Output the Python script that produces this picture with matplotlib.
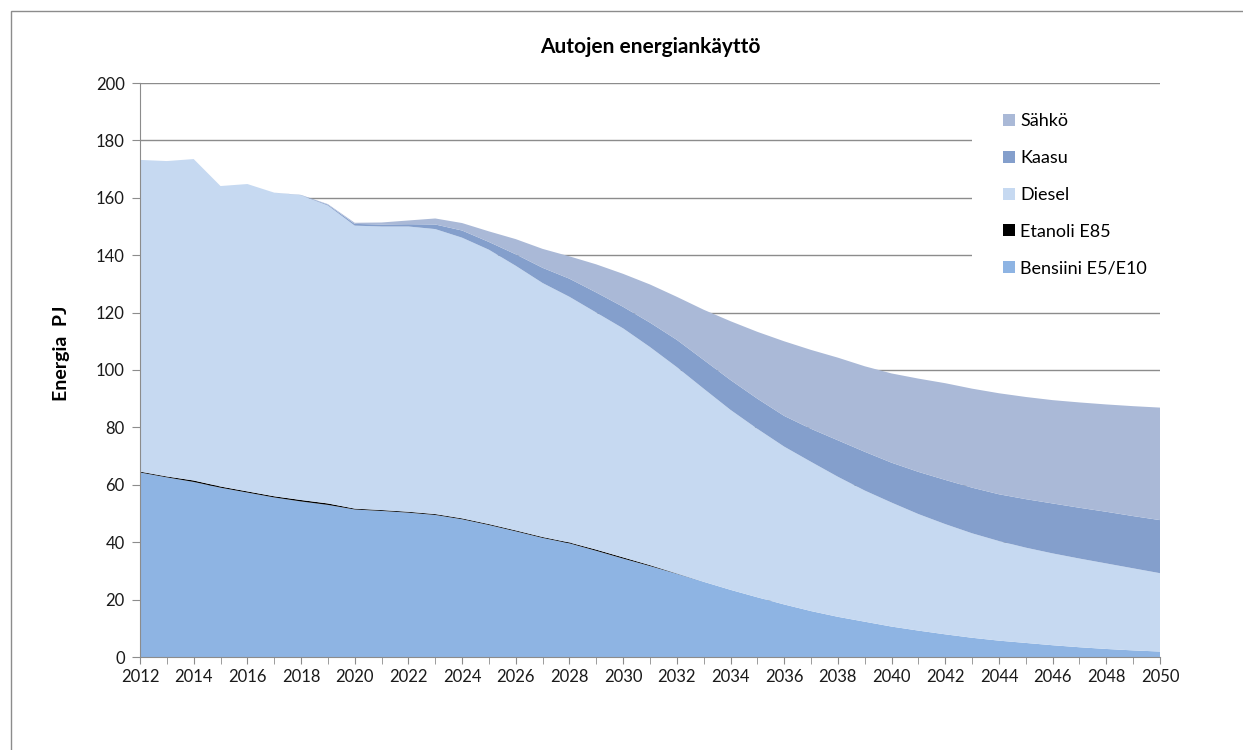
import matplotlib.pyplot as plt
import matplotlib.patches as patches

plt.rcParams['font.family'] = ['Lato', 'DejaVu Sans']

# Data (PJ)
years = list(range(2012, 2051))
bensiini = [64.3, 62.6, 61.0, 59.0, 57.3, 55.6, 54.2, 53.0, 51.4, 50.9,
            50.3, 49.5, 48.0, 46.0, 43.8, 41.5, 39.6, 37.0, 34.3, 31.7,
            29.0, 26.2, 23.4, 20.8, 18.3, 16.0, 14.0, 12.3, 10.6, 9.2,
            7.9, 6.7, 5.7, 4.9, 4.1, 3.4, 2.8, 2.3, 1.9]
etanoli = [0.3, 0.3, 0.5, 0.4, 0.4, 0.4, 0.5, 0.5, 0.3, 0.3,
           0.3, 0.3, 0.3, 0.3, 0.3, 0.3, 0.3, 0.4, 0.4, 0.3,
           0.1, 0, 0, 0, 0, 0, 0, 0, 0, 0,
           0, 0, 0, 0, 0, 0, 0, 0, 0]
diesel = [108.6, 109.9, 112.0, 104.7, 107.1, 105.8, 106.2, 103.8, 98.6, 98.8,
          99.4, 99.3, 97.8, 95.6, 92.2, 88.5, 85.6, 82.6, 79.8, 76.0,
          71.9, 67.3, 62.7, 58.7, 55.0, 52.0, 48.8, 45.7, 43.2, 40.6,
          38.4, 36.4, 34.7, 33.2, 32.0, 30.9, 29.8, 28.6, 27.3]
kaasu = [0, 0, 0, 0, 0, 0, 0.1, 0.3, 0.6, 0.7,
         0.8, 1.6, 2.5, 2.7, 4.0, 5.3, 6.3, 7.0, 7.5, 8.5,
         9.5, 10.0, 10.4, 10.5, 10.7, 11.5, 12.7, 13.5, 13.9, 14.7,
         15.4, 15.9, 16.3, 16.9, 17.4, 17.7, 18.0, 18.2, 18.5]
sahko = [0, 0, 0, 0, 0, 0, 0, 0.2, 0.4, 0.7,
         1.3, 2.1, 2.6, 3.7, 5.3, 6.6, 7.8, 9.8, 11.5, 13.3,
         15.0, 17.5, 20.5, 23.3, 26.0, 27.5, 28.8, 29.8, 31.1, 32.5,
         33.7, 34.5, 35.2, 35.6, 36.0, 36.7, 37.4, 38.3, 39.2]

labels = ["Bensiini E5/E10", "Etanoli E85", "Diesel", "Kaasu", "Sähkö"]
colors = ["#8EB4E3", "#000000", "#C6D9F1", "#849FCC", "#AAB9D7"]

fig = plt.figure(figsize=(12.43, 7.5), dpi=100)
ax = fig.add_axes([140 / 1243, 1 - 657 / 750, 1020 / 1243, 574 / 750])

polys = ax.stackplot(years, bensiini, etanoli, diesel, kaasu, sahko,
                     colors=colors, labels=labels, linewidth=0, zorder=2)

ax.set_xlim(2012, 2050)
ax.set_ylim(0, 200)
ax.set_yticks(range(0, 201, 20))
ax.set_xticks(range(2012, 2051, 2))
ax.set_xticks(years, minor=True)
ax.grid(axis='y', color='#8c8c8c', linewidth=1)
ax.set_axisbelow(True)

for side in ['top', 'right']:
    ax.spines[side].set_visible(False)
for side in ['left', 'bottom']:
    ax.spines[side].set_color('#8c8c8c')
ax.tick_params(axis='both', which='both', color='#8c8c8c', direction='out',
               labelsize=12, labelcolor='#1a1a1a')
ax.tick_params(axis='y', length=6, pad=5)
ax.tick_params(axis='x', which='both', length=5, pad=4)

# white legend area hides the gridlines behind it
ax.add_patch(patches.Rectangle((972 / 1243, 1 - 290 / 750), 188 / 1243, 190 / 750,
                               transform=fig.transFigure, facecolor='white',
                               edgecolor='none', zorder=1))

# legend in reversed order, like the reference
handles, labs = ax.get_legend_handles_labels()
leg = ax.legend(handles[::-1], labs[::-1], loc='center left',
                bbox_to_anchor=(1003 / 1243, 1 - 195 / 750),
                bbox_transform=fig.transFigure, fontsize=13,
                handlelength=0.65, handleheight=0.65, handletextpad=0.3,
                labelspacing=1.15, frameon=False, borderpad=0, borderaxespad=0)

fig.text(650 / 1243, 1 - 47 / 750, "Autojen energiankäyttö", ha='center', va='center',
         fontsize=15, fontweight='bold')
fig.text(62 / 1243, 1 - 353 / 750, "Energia  PJ", rotation=90, ha='center',
         va='center', fontsize=14, fontweight='bold')

# outer chart border (runs off the right and bottom edges)
fig.patches.append(patches.Rectangle((11 / 1243, -0.1), 1.2, 1.1 - 11 / 750,
                                     transform=fig.transFigure, fill=False,
                                     edgecolor='#8c8c8c', linewidth=1))

fig.savefig("out.png", dpi=100)
